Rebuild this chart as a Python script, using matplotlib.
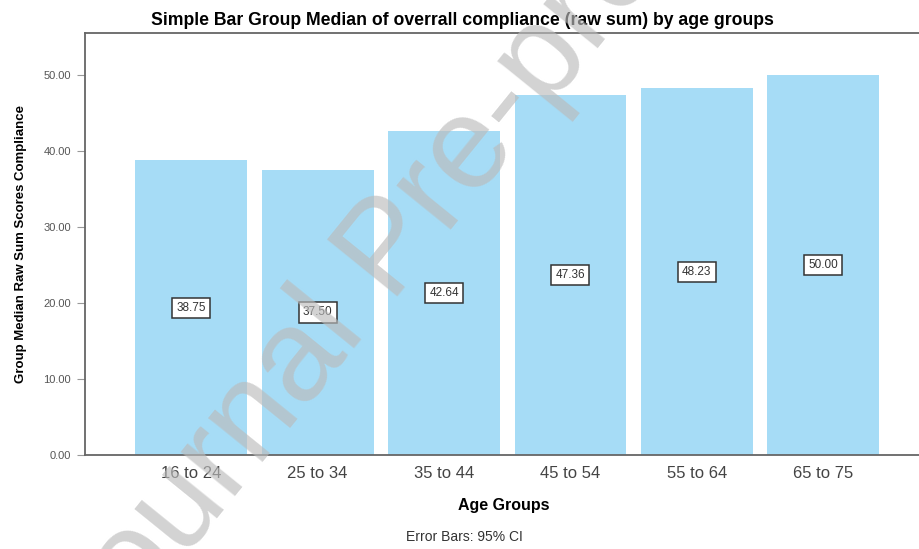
import numpy as np
import matplotlib.pyplot as plt

plt.rcParams['font.family'] = ['Liberation Sans', 'DejaVu Sans']

# Data
age_groups = ["16 to 24", "25 to 34", "35 to 44", "45 to 54", "55 to 64", "65 to 75"]
medians = [38.75, 37.50, 42.64, 47.36, 48.23, 50.00]
y_ticks = [0, 10, 20, 30, 40, 50]

bar_color = "#a6dcf6"

fig = plt.figure(figsize=(9.19, 5.49), dpi=100)
# right edge runs past the figure, like the cropped original
ax = fig.add_axes([0.0925, 0.171, 0.912, 0.769])

x = np.arange(len(age_groups))
ax.bar(x, medians, width=0.885, color=bar_color, edgecolor="none", zorder=2)

# value labels in the middle of each bar
for xi, v in zip(x, medians):
    ax.text(xi, v / 2, f"{v:.2f}", ha="center", va="center", fontsize=8.5,
            color="#333333", zorder=4,
            bbox=dict(boxstyle="square,pad=0.35", fc="white", ec="#333333", lw=1.1))

ax.set_xlim(-0.84, 5.79)
ax.set_ylim(0, 55.5)
ax.set_xticks(x)
ax.set_xticklabels(age_groups, fontsize=12, color="#444444")
ax.set_yticks(y_ticks)
ax.set_yticklabels([f"{t:.2f}" for t in y_ticks], fontsize=8, color="#555555")
ax.tick_params(axis="x", length=0, pad=8)
ax.tick_params(axis="y", length=6, color="#999999", pad=4)

for s in ax.spines.values():
    s.set_color("#666666")
    s.set_linewidth(1.3)

ax.set_xlabel("Age Groups", fontsize=11.5, fontweight="bold", labelpad=12)
ax.set_ylabel("Group Median Raw Sum Scores Compliance", fontsize=9.5,
              fontweight="bold", labelpad=12)
fig.text(0.503, 0.963, "Simple Bar Group Median of overrall compliance (raw sum) by age groups",
         ha="center", va="center", fontsize=12.7, fontweight="bold")
fig.text(0.505, 0.022, "Error Bars: 95% CI", ha="center", va="center",
         fontsize=10, color="#333333")

# watermark
fig.text(0.424, 0.543, "Journal Pre-proof", ha="center", va="center",
         fontsize=94.5, color="#bbbbbb", alpha=0.65, rotation=51, zorder=10)

fig.savefig("out.png", dpi=100)
